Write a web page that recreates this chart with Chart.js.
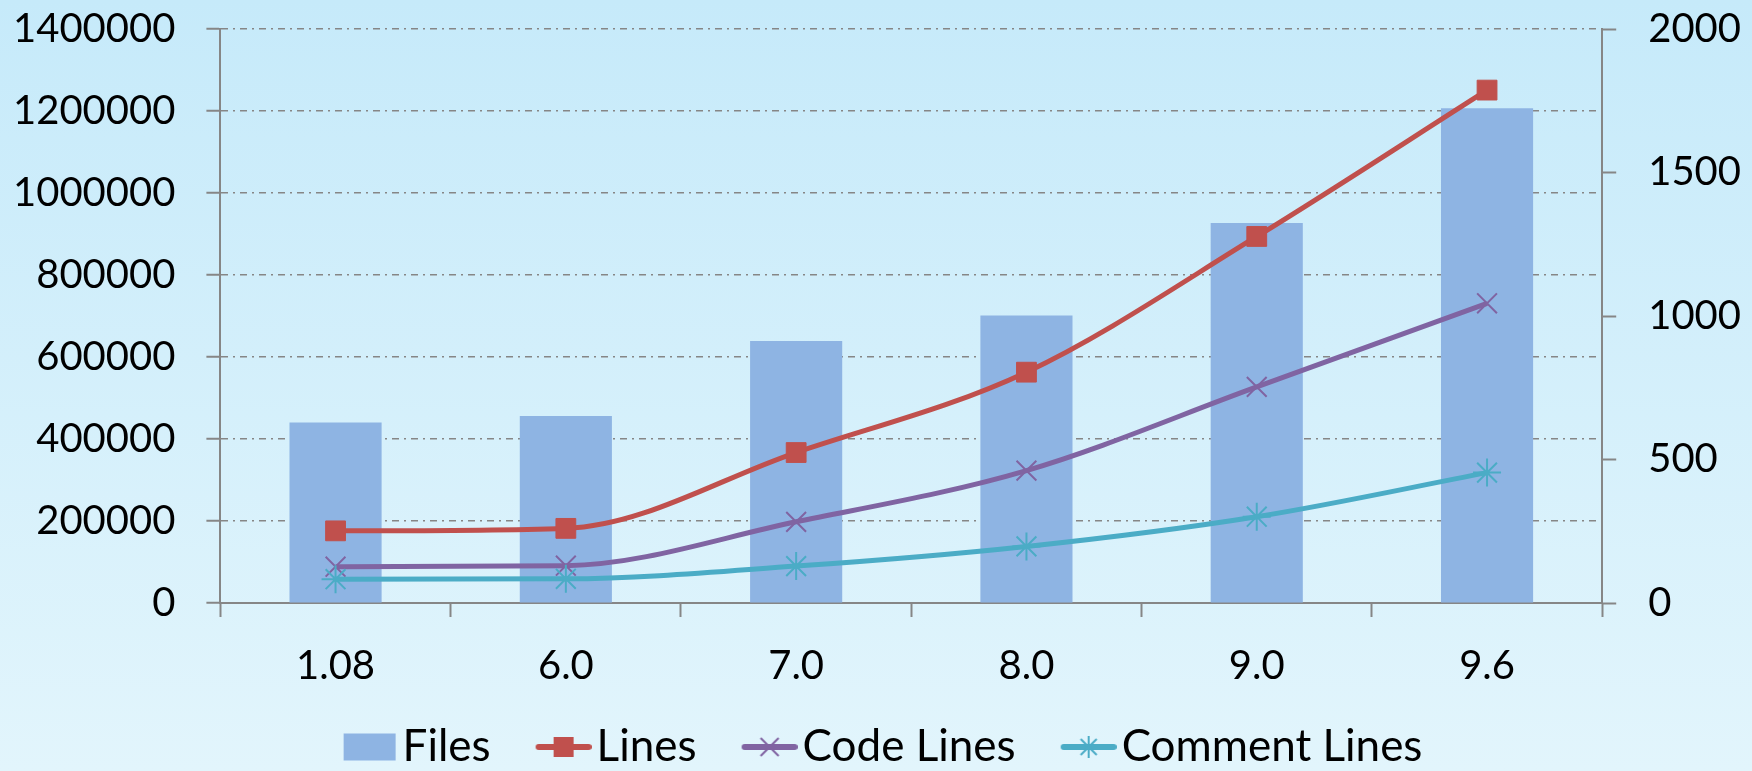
<!DOCTYPE html>
<html>
<head>
<meta charset="utf-8">
<script src="https://cdn.jsdelivr.net/npm/chart.js@4.4.0/dist/chart.umd.min.js"></script>
<style>
  html, body { margin: 0; padding: 0; background: #e0f4fb; }
  #wrap { width: 1752px; height: 771px; }
</style>
</head>
<body>
<div id="wrap"><canvas id="releaseChart" width="1752" height="771"></canvas></div>
<script>
const versions = ["1.08", "6.0", "7.0", "8.0", "9.0", "9.6"];
const files = [629, 652, 913, 1002, 1324, 1724];
const lines = [176000, 182000, 367000, 563000, 894000, 1251000];
const codeLines = [88500, 91000, 198000, 323000, 527000, 731000];
const commentLines = [58000, 59000, 90000, 138000, 210500, 318000];
const leftTicks = [0, 200000, 400000, 600000, 800000, 1000000, 1200000, 1400000];
const rightTicks = [0, 500, 1000, 1500, 2000];

const ctx = document.getElementById("releaseChart").getContext("2d");
const axisGrey = "#868686";
const tickFont = { family: "Lato", size: 40 };

const background = {
  id: "background",
  beforeDraw(chart) {
    const { ctx, width, height } = chart;
    const g = ctx.createLinearGradient(0, 0, 0, height);
    g.addColorStop(0, "#c6eafa");
    g.addColorStop(1, "#e2f5fc");
    ctx.save();
    ctx.fillStyle = g;
    ctx.fillRect(0, 0, width, height);
    ctx.restore();
  },
};

// chart.js counts tick padding twice in the axis size, take one back off
function fitY(scale) {
  scale.width -= scale.options.ticks.padding;
  scale.paddingTop = 0;
  scale.paddingBottom = 0;
}
function fitX(scale) {
  scale.height -= scale.options.ticks.padding;
}

// legend symbols, excel style: line with the marker on it
function legendIcon(draw) {
  const c = document.createElement("canvas");
  c.width = 83;
  c.height = 30;
  draw(c.getContext("2d"));
  return c;
}

function lineIcon(color, marker) {
  return legendIcon((g) => {
    g.strokeStyle = color;
    g.lineWidth = 6;
    g.lineCap = "round";
    g.beginPath();
    g.moveTo(30, 15);
    g.lineTo(80, 15);
    g.stroke();
    marker(g, 55, 15);
  });
}

function crossMarker(g, x, y, r) {
  g.beginPath();
  g.moveTo(x - r, y - r); g.lineTo(x + r, y + r);
  g.moveTo(x - r, y + r); g.lineTo(x + r, y - r);
  g.stroke();
}

const icons = [
  legendIcon((g) => { g.fillStyle = "#8eb4e3"; g.fillRect(29, 1.5, 52, 27); }),
  lineIcon("#c0504d", (g, x, y) => { g.fillStyle = "#c0504d"; g.fillRect(x - 10, y - 10, 20, 20); }),
  lineIcon("#8064a2", (g, x, y) => { g.lineWidth = 2; g.lineCap = "butt"; crossMarker(g, x, y, 9); }),
  lineIcon("#4bacc6", (g, x, y) => {
    g.lineWidth = 2; g.lineCap = "butt";
    crossMarker(g, x, y, 8);
    g.beginPath();
    g.moveTo(x, y - 11); g.lineTo(x, y + 11);
    g.stroke();
  }),
];

new Chart(ctx, {
  type: "bar",
  data: {
    labels: versions,
    datasets: [
      {
        label: "Files",
        data: files,
        yAxisID: "y1",
        backgroundColor: "#8eb4e3",
        categoryPercentage: 1,
        barPercentage: 0.4,
        order: 4,
      },
      {
        type: "line",
        label: "Lines",
        data: lines,
        yAxisID: "y",
        borderColor: "#c0504d",
        backgroundColor: "#c0504d",
        borderWidth: 5,
        pointStyle: "rect",
        pointRadius: 14,
        pointBorderWidth: 1,
        pointBackgroundColor: "#c0504d",
        cubicInterpolationMode: "monotone",
        order: 3,
      },
      {
        type: "line",
        label: "Code Lines",
        data: codeLines,
        yAxisID: "y",
        borderColor: "#8064a2",
        backgroundColor: "#8064a2",
        borderWidth: 5,
        pointStyle: "crossRot",
        pointRadius: 14,
        pointBorderWidth: 2,
        cubicInterpolationMode: "monotone",
        order: 2,
      },
      {
        type: "line",
        label: "Comment Lines",
        data: commentLines,
        yAxisID: "y",
        borderColor: "#4bacc6",
        backgroundColor: "#4bacc6",
        borderWidth: 5,
        pointStyle: "star",
        pointRadius: 14,
        pointBorderWidth: 2,
        cubicInterpolationMode: "monotone",
        order: 1,
      },
    ],
  },
  options: {
    responsive: false,
    devicePixelRatio: 1,
    animation: false,
    layout: { padding: { top: 29, left: 13, right: 11, bottom: -8 } },
    plugins: {
      tooltip: { enabled: false },
      legend: {
        position: "bottom",
        labels: {
          usePointStyle: true,
          pointStyleWidth: 49,
          padding: 35,
          color: "#000",
          font: { family: "Lato", size: 44 },
          sort: (a, b) => a.datasetIndex - b.datasetIndex,
          generateLabels(chart) {
            const items = Chart.defaults.plugins.legend.labels.generateLabels(chart);
            items.forEach((it) => { it.pointStyle = icons[it.datasetIndex]; });
            return items;
          },
        },
      },
    },
    scales: {
      x: {
        offset: true,
        afterFit: fitX,
        grid: {
          drawOnChartArea: false,
          offset: true,
          tickLength: 14,
          tickColor: axisGrey,
          tickWidth: 2,
        },
        border: { color: axisGrey, width: 2 },
        ticks: { font: tickFont, color: "#000", padding: 25 },
      },
      y: {
        position: "left",
        min: 0,
        max: 1400000,
        afterBuildTicks: (scale) => { scale.ticks = leftTicks.map((v) => ({ value: v })); },
        afterFit: fitY,
        grid: {
          color: axisGrey,
          lineWidth: 1.5,
          tickLength: 14,
          tickColor: axisGrey,
          tickWidth: 2,
          tickBorderDash: [],
        },
        border: { color: axisGrey, width: 2, dash: [7, 5, 2, 5] },
        ticks: { font: tickFont, color: "#000", padding: 31, callback: (v) => String(v) },
      },
      y1: {
        position: "right",
        min: 0,
        max: 2000,
        afterBuildTicks: (scale) => { scale.ticks = rightTicks.map((v) => ({ value: v })); },
        afterFit: fitY,
        grid: {
          drawOnChartArea: false,
          tickLength: 14,
          tickColor: axisGrey,
          tickWidth: 2,
        },
        border: { color: axisGrey, width: 2 },
        ticks: { font: tickFont, color: "#000", padding: 32, callback: (v) => String(v) },
      },
    },
  },
  plugins: [background],
});
</script>
</body>
</html>
